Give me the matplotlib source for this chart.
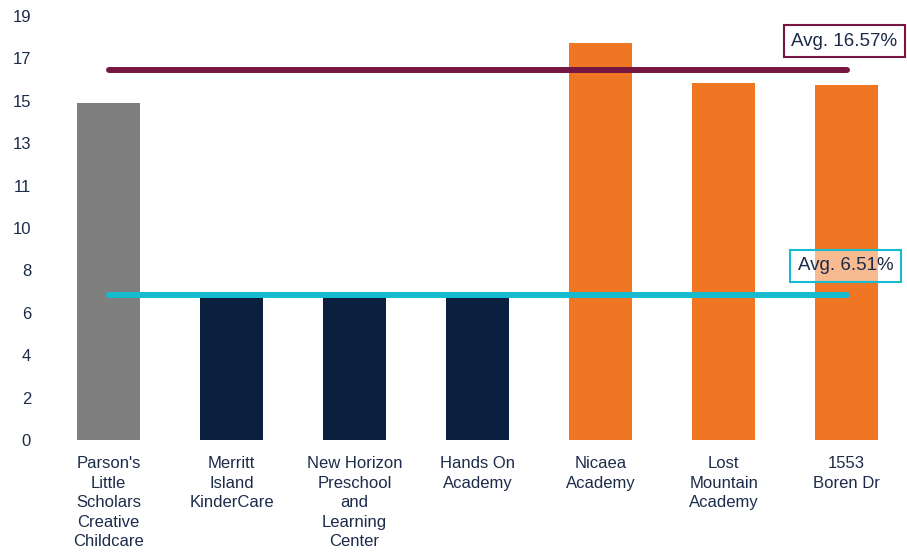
import numpy as np
import matplotlib.pyplot as plt

plt.rcParams['font.family'] = ['Liberation Sans', 'DejaVu Sans']

labels = ["Parson's\nLittle\nScholars\nCreative\nChildcare",
          "Merritt\nIsland\nKinderCare",
          "New Horizon\nPreschool\nand\nLearning\nCenter",
          "Hands On\nAcademy",
          "Nicaea\nAcademy",
          "Lost\nMountain\nAcademy",
          "1553\nBoren Dr"]
values = [15.1, 6.65, 6.44, 6.44, 17.8, 16.0, 15.9]
groups = ['gray', 'navy', 'navy', 'navy', 'orange', 'orange', 'orange']

colors = {'gray': '#7f7f7f', 'navy': '#0b203f', 'orange': '#f07624'}
TEXT = '#1c2b4a'

navy_avg = np.mean([v for v, g in zip(values, groups) if g == 'navy'])
orange_avg = np.mean([v for v, g in zip(values, groups) if g == 'orange'])

fig = plt.figure(figsize=(9.07, 5.55), dpi=100)
ax = fig.add_axes([47 / 907, 1 - 440 / 555, 860 / 907, 424 / 555])

x = np.arange(len(values))
ax.bar(x, values, width=0.51, color=[colors[g] for g in groups], zorder=1)

# average lines, first bar center to last bar center
ax.plot([x[0], x[-1]], [orange_avg, orange_avg], color='#761642', lw=4.3,
        solid_capstyle='round', zorder=2)
ax.plot([x[0], x[-1]], [navy_avg, navy_avg], color='#17bbd0', lw=4.3,
        solid_capstyle='round', zorder=2)

ax.text(x[-1] - 0.02, orange_avg + 1.3, f"Avg. {orange_avg:.2f}%", ha='center', va='center',
        fontsize=13.5, color=TEXT, zorder=3,
        bbox=dict(boxstyle='square,pad=0.4', fc=(1, 1, 1, 0.5), ec='#761642', lw=1.5))
ax.text(x[-1] - 0.01, navy_avg + 1.3, f"Avg. {navy_avg:.2f}%", ha='center', va='center',
        fontsize=13.5, color=TEXT, zorder=3,
        bbox=dict(boxstyle='square,pad=0.4', fc=(1, 1, 1, 0.5), ec='#17bbd0', lw=1.5))

ax.set_xlim(-0.5, 6.49)
ax.set_ylim(0, 19)
yt = np.linspace(0, 19, 11)
ax.set_yticks(yt)
ax.set_yticklabels([f"{v:.0f}" for v in yt])
ax.set_xticks(x)
ax.set_xticklabels(labels, linespacing=1.38)
ax.tick_params(axis='y', length=0, pad=11.5, labelsize=12, labelcolor=TEXT)
ax.tick_params(axis='x', length=0, pad=11.5, labelsize=12, labelcolor=TEXT)
for s in ax.spines.values():
    s.set_visible(False)

fig.savefig('out.png', dpi=100)
